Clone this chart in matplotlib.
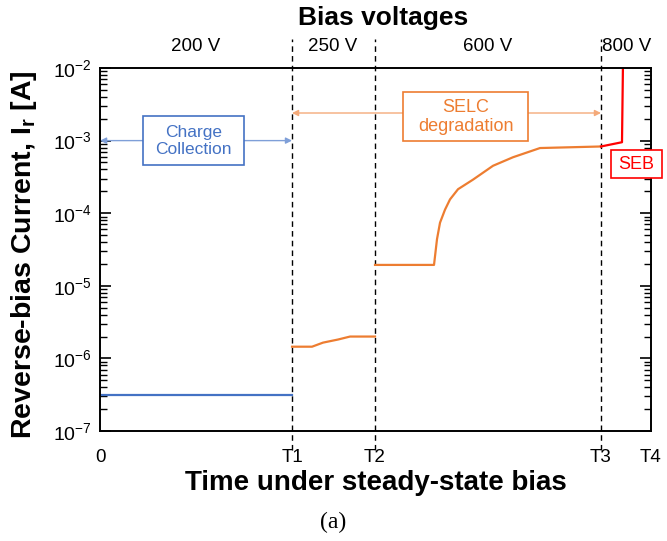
import matplotlib
matplotlib.use("Agg")
import matplotlib.pyplot as plt
from matplotlib.patches import Rectangle
from matplotlib.ticker import FixedLocator, NullFormatter

plt.rcParams['font.family'] = ['Liberation Sans', 'DejaVu Sans']
plt.rcParams['mathtext.fontset'] = 'custom'
plt.rcParams['mathtext.rm'] = 'Liberation Sans'
plt.rcParams['mathtext.it'] = 'Liberation Sans:italic'
plt.rcParams['mathtext.bf'] = 'Liberation Sans:bold'

# time marks (arbitrary units) where the bias was stepped
t_marks = [0, 192, 275, 501, 551]
t_labels = ['0', 'T1', 'T2', 'T3', 'T4']
bias_labels = ['200 V', '250 V', '600 V', '800 V']
bias_centers = [96, 233, 388, 527]

# reverse-bias current for each bias step
t_200 = [0, 192]
i_200 = [3.1e-7, 3.1e-7]

t_250 = [192, 212, 223, 238, 250, 275]
i_250 = [1.45e-6, 1.45e-6, 1.65e-6, 1.82e-6, 2.0e-6, 2.0e-6]

t_600 = [275, 334, 337, 340, 345, 350, 358, 373, 393, 413, 440, 501]
i_600 = [1.94e-5, 1.94e-5, 4.4e-5, 7.4e-5, 1.12e-4, 1.55e-4, 2.14e-4,
         2.9e-4, 4.5e-4, 5.9e-4, 7.9e-4, 8.3e-4]

t_800 = [501, 522, 523]
i_800 = [8.3e-4, 9.5e-4, 1.2e-2]

blue = '#4472C4'
orange = '#ED7D31'
red = '#FF0000'

fig = plt.figure(figsize=(6.67, 5.41), dpi=100)
ax = fig.add_axes([0.150, 0.2033, 0.826, 0.671])

ax.plot(t_200, i_200, color=blue, lw=1.6)
ax.plot(t_250, i_250, color=orange, lw=1.6)
ax.plot(t_600, i_600, color=orange, lw=1.6)
ax.plot(t_800, i_800, color=red, lw=1.6)

ax.set_yscale('log')
ax.set_ylim(1e-7, 1e-2)
ax.set_xlim(t_marks[0], t_marks[-1])

# dashed separators between bias steps, running past the frame
for t in t_marks[1:4]:
    ax.plot([t, t], [10**-7.26, 10**-1.6], color='black', lw=1.0,
            ls=(0, (4, 3)), clip_on=False, zorder=1)

# bias voltage labels above the frame
for c, lab in zip(bias_centers, bias_labels):
    ax.text(c, 10**-1.7, lab, ha='center', va='center', fontsize=13.5)
fig.text(0.574, 0.966, 'Bias voltages', ha='center', va='center',
         fontsize=19, fontweight='bold')

# ticks: log decades with inward minor ticks on both sides
decades = list(range(-7, -1))
ax.set_xticks(t_marks)
ax.set_xticklabels(t_labels, fontsize=13.5)
ax.tick_params(axis='x', length=0, pad=13)
ax.yaxis.set_major_locator(FixedLocator([10.0**k for k in decades]))
ax.set_yticklabels([r'$10^{%d}$' % k for k in decades], fontsize=14)
ax.yaxis.set_minor_locator(FixedLocator(
    [m * 10.0**k for k in decades[:-1] for m in range(2, 10)]))
ax.yaxis.set_minor_formatter(NullFormatter())
ax.tick_params(axis='y', which='major', direction='in', length=8, width=1.2,
               color='black', left=True, right=True, pad=6)
ax.tick_params(axis='y', which='minor', direction='in', length=5, width=1.0,
               color='black', left=True, right=True)
for s in ax.spines.values():
    s.set_linewidth(1.4)

ax.set_xlabel('Time under steady-state bias', fontsize=20, fontweight='bold',
              labelpad=3)
fig.text(0.036, 0.529, 'Reverse-bias Current, I$_\\mathbf{r}$ [A]',
         rotation=90, ha='center', va='center', fontsize=20.5,
         fontweight='bold')

# charge collection span
ax.annotate('', xy=(t_marks[0], 1e-3), xytext=(t_marks[1], 1e-3),
            arrowprops=dict(arrowstyle='<|-|>', color='#7F9FD8', lw=1.0,
                            mutation_scale=9, shrinkA=0, shrinkB=0))
ax.add_patch(Rectangle((0.078, 0.733), 0.183, 0.135, transform=ax.transAxes,
                       facecolor='white', edgecolor=blue, lw=1.2, zorder=3))
ax.text(0.1695, 0.80, 'Charge\nCollection', transform=ax.transAxes,
        ha='center', va='center', color=blue, fontsize=12.5, zorder=4,
        linespacing=1.15)

# SELC degradation span
ax.annotate('', xy=(t_marks[1], 2.4e-3), xytext=(t_marks[3], 2.4e-3),
            arrowprops=dict(arrowstyle='<|-|>', color='#F4AA7A', lw=1.0,
                            mutation_scale=9, shrinkA=0, shrinkB=0))
ax.add_patch(Rectangle((0.550, 0.799), 0.227, 0.135, transform=ax.transAxes,
                       facecolor='white', edgecolor=orange, lw=1.2, zorder=3))
ax.text(0.6635, 0.866, 'SELC\ndegradation', transform=ax.transAxes,
        ha='center', va='center', color=orange, fontsize=13, zorder=4,
        linespacing=1.15)

# single-event burnout
ax.add_patch(Rectangle((0.927, 0.697), 0.093, 0.077, transform=ax.transAxes,
                       facecolor='white', edgecolor=red, lw=1.2, zorder=3,
                       clip_on=False))
ax.text(0.9735, 0.7355, 'SEB', transform=ax.transAxes, ha='center',
        va='center', color=red, fontsize=13, zorder=4)

fig.text(0.499, 0.035, '(a)', ha='center', va='center', fontsize=17,
         family='Liberation Serif')

fig.savefig('out.png', dpi=100)
